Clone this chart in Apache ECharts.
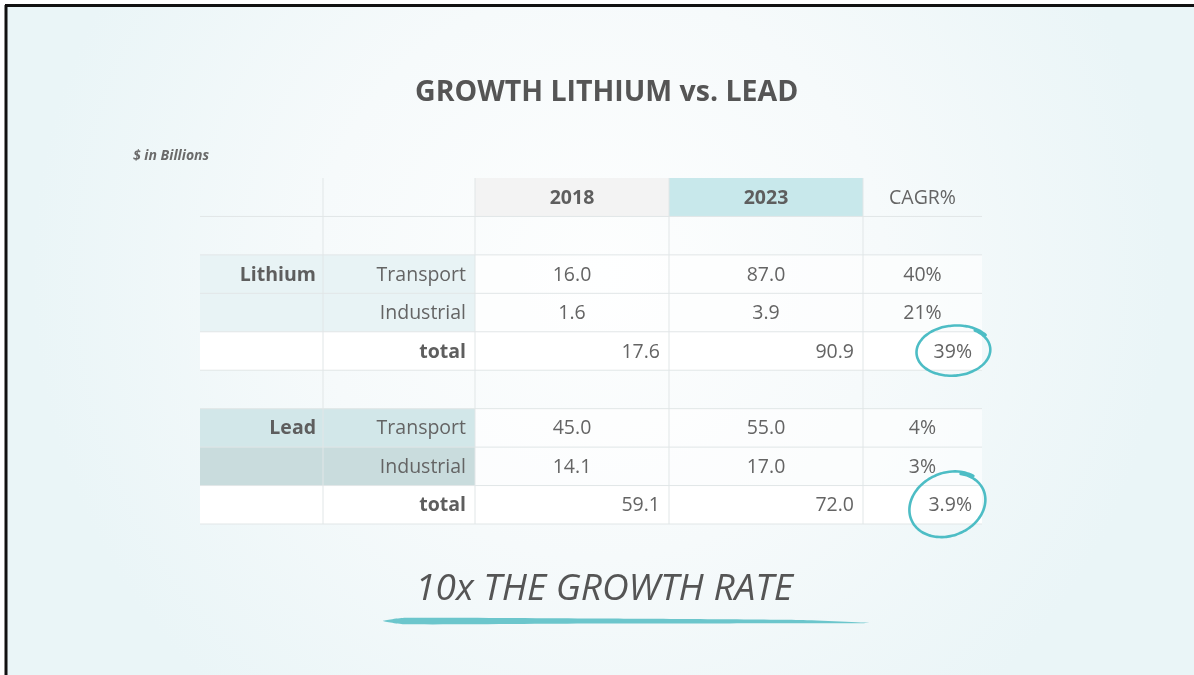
<!DOCTYPE html>
<html>
<head>
<meta charset="utf-8">
<script src="https://cdn.jsdelivr.net/npm/echarts@6/dist/echarts.min.js"></script>
<style>
html, body { margin: 0; padding: 0; background: #fff; }
#main { width: 1194px; height: 675px; }
</style>
</head>
<body>
<div id="main"></div>
<script>
// table content, $ in Billions
const colHeaders = ['', '', '2018', '2023', 'CAGR%'];
const groups = ['Lithium', 'Lead'];
const segments = ['Transport', 'Industrial'];
const values2018 = [[16.0, 1.6], [45.0, 14.1]];
const values2023 = [[87.0, 3.9], [55.0, 17.0]];
const cagrSeg = [['40%', '21%'], ['4%', '3%']];
const total2018 = [17.6, 59.1];
const total2023 = [90.9, 72.0];
const totalCagr = ['39%', '3.9%'];

// layout / styles
const colEdges = [0, 123, 275, 469, 663, 782]; // px from table left
const groupFill = [['#e8f3f5', '#e8f3f5'], ['#d2e7e9', '#c9dcdd']];
const headFill = [null, null, '#f3f3f3', '#c8e8eb', null];
const ringStyle = [{rx: 36, ry: 24, rot: -0.08, dx: -28}, {rx: 38, ry: 30, rot: -0.4, dx: -34}];
const FONT = "'Open Sans', 'DejaVu Sans', sans-serif";
const TXT = '#646464';

const rowKeys = [];
const cells = [];

function addCell(row, col, text, opt) {
  cells.push(Object.assign({ row: row, col: col, text: text }, opt || {}));
}

// header row
rowKeys.push('head');
for (let c = 0; c < 5; c++) {
  addCell(0, c, colHeaders[c], { fill: headFill[c], bold: c === 2 || c === 3 });
}
// blank row
rowKeys.push('blank0');
for (let c = 0; c < 5; c++) addCell(1, c, '');

for (let g = 0; g < groups.length; g++) {
  for (let s = 0; s < segments.length; s++) {
    const r = rowKeys.length;
    rowKeys.push(groups[g] + s);
    addCell(r, 0, s === 0 ? groups[g] : '', { fill: groupFill[g][s], bold: true, align: 'right', pad: 7 });
    addCell(r, 1, segments[s], { fill: groupFill[g][s], align: 'right', pad: 9 });
    addCell(r, 2, values2018[g][s].toFixed(1), { fill: 'rgba(255,255,255,0.6)' });
    addCell(r, 3, values2023[g][s].toFixed(1), { fill: 'rgba(255,255,255,0.6)' });
    addCell(r, 4, cagrSeg[g][s], { fill: 'rgba(255,255,255,0.6)' });
  }
  const r = rowKeys.length;
  rowKeys.push(groups[g] + 'total');
  addCell(r, 0, '', { fill: '#ffffff' });
  addCell(r, 1, 'total', { fill: '#ffffff', bold: true, align: 'right', pad: 9 });
  addCell(r, 2, total2018[g].toFixed(1), { fill: '#ffffff', align: 'right', pad: 9 });
  addCell(r, 3, total2023[g].toFixed(1), { fill: '#ffffff', align: 'right', pad: 9 });
  addCell(r, 4, totalCagr[g], { fill: '#ffffff', align: 'right', pad: 10, ring: g });
  if (g < groups.length - 1) {
    const b = rowKeys.length;
    rowKeys.push('blank' + b);
    for (let c = 0; c < 5; c++) addCell(b, c, '');
  }
}

function ringPoints(cx, cy, st) {
  const pts = [];
  const N = 90, t0 = -0.9;
  for (let i = 0; i <= N; i++) {
    const t = t0 + (i / N) * (Math.PI * 2 + 0.35);
    const k = 1 + 0.07 * i / N;
    const ex = st.rx * k * Math.cos(t), ey = st.ry * k * Math.sin(t);
    pts.push([cx + ex * Math.cos(st.rot) - ey * Math.sin(st.rot),
              cy + ex * Math.sin(st.rot) + ey * Math.cos(st.rot)]);
  }
  return pts;
}

function renderCell(params, api) {
  const c = cells[params.dataIndex];
  const p0 = api.coord([api.value(0), api.value(2)]);
  const p1 = api.coord([api.value(1), api.value(2)]);
  const h = api.size([0, 1])[1];
  const x0 = p0[0], x1 = p1[0], yTop = p0[1] - h / 2, yMid = p0[1];
  const kids = [];
  if (c.fill) {
    kids.push({ type: 'rect', shape: { x: x0, y: yTop, width: x1 - x0, height: h }, style: { fill: c.fill }, z2: 1 });
  }
  kids.push({ type: 'line', shape: { x1: x0, y1: yTop + h, x2: x1, y2: yTop + h }, style: { stroke: '#e1e6e7', lineWidth: 1 }, z2: 10 });
  if (c.col < 4) {
    kids.push({ type: 'line', shape: { x1: x1, y1: yTop, x2: x1, y2: yTop + h }, style: { stroke: '#e1e6e7', lineWidth: 1 }, z2: 10 });
  }
  if (c.text) {
    const right = c.align === 'right';
    kids.push({
      type: 'text', z2: 20,
      style: {
        x: right ? x1 - c.pad : (x0 + x1) / 2, y: yMid + 1,
        text: c.text, align: right ? 'right' : 'center', verticalAlign: 'middle',
        fontFamily: FONT, fontSize: 19.5, fontWeight: c.bold ? 'bold' : 'normal',
        fill: c.bold ? '#5e5e5e' : TXT
      }
    });
  }
  if (c.ring != null) {
    const st = ringStyle[c.ring];
    kids.push({
      type: 'polyline', z2: 30,
      shape: { points: ringPoints(x1 + st.dx, yMid, st), smooth: 0.3 },
      style: { stroke: '#4dbdc5', lineWidth: 2.6, fill: null, lineCap: 'round' }
    });
  }
  return { type: 'group', children: kids };
}

const chart = echarts.init(document.getElementById('main'));
chart.setOption({
  backgroundColor: '#ffffff',
  animation: false,
  title: {
    text: 'GROWTH LITHIUM vs. LEAD',
    left: 410, top: 73,
    textStyle: { fontFamily: FONT, fontSize: 28.5, fontWeight: 'bold', color: '#555555' }
  },
  grid: { left: 200, top: 178, width: 782, height: 346 },
  xAxis: { type: 'value', min: 0, max: 782, show: false },
  yAxis: { type: 'category', data: rowKeys, inverse: true, show: false },
  graphic: [
    { type: 'rect', z: -10, silent: true, shape: { x: 6, y: 6, width: 1188, height: 669 },
      style: { fill: { type: 'radial', x: 0.5, y: 0.4, r: 0.85,
        colorStops: [{ offset: 0, color: '#fdfefe' }, { offset: 0.5, color: '#f6fafb' }, { offset: 1, color: '#eaf5f7' }] } } },
    { type: 'line', z: 100, shape: { x1: 5, y1: 5.5, x2: 1194, y2: 5.5 }, style: { stroke: '#111', lineWidth: 3 } },
    { type: 'line', z: 100, shape: { x1: 6, y1: 5, x2: 6, y2: 675 }, style: { stroke: '#111', lineWidth: 3 } },
    { type: 'text', z: 100, style: { x: 133, y: 156, text: '$ in Billions', verticalAlign: 'middle',
      fontFamily: FONT, fontSize: 14, fontStyle: 'italic', fontWeight: 'bold', fill: '#6a6a6a' } },
    { type: 'text', z: 100, style: { x: 604, y: 589, text: '10x THE GROWTH RATE', align: 'center', verticalAlign: 'middle',
      fontFamily: FONT, fontSize: 37, fontStyle: 'italic', fill: '#555555' } },
    { type: 'polygon', z: 100, shape: { points: [[383, 621], [405, 617.8], [600, 618.5], [800, 620], [870, 623],
      [800, 623.2], [600, 623.6], [405, 624.3]], smooth: 0.2 }, style: { fill: '#6cc6cc' } }
  ],
  series: [{
    type: 'custom',
    renderItem: renderCell,
    encode: { x: [0, 1], y: 2 },
    data: cells.map(function (c) { return [colEdges[c.col], colEdges[c.col + 1], c.row]; })
  }]
});
</script>
</body>
</html>
